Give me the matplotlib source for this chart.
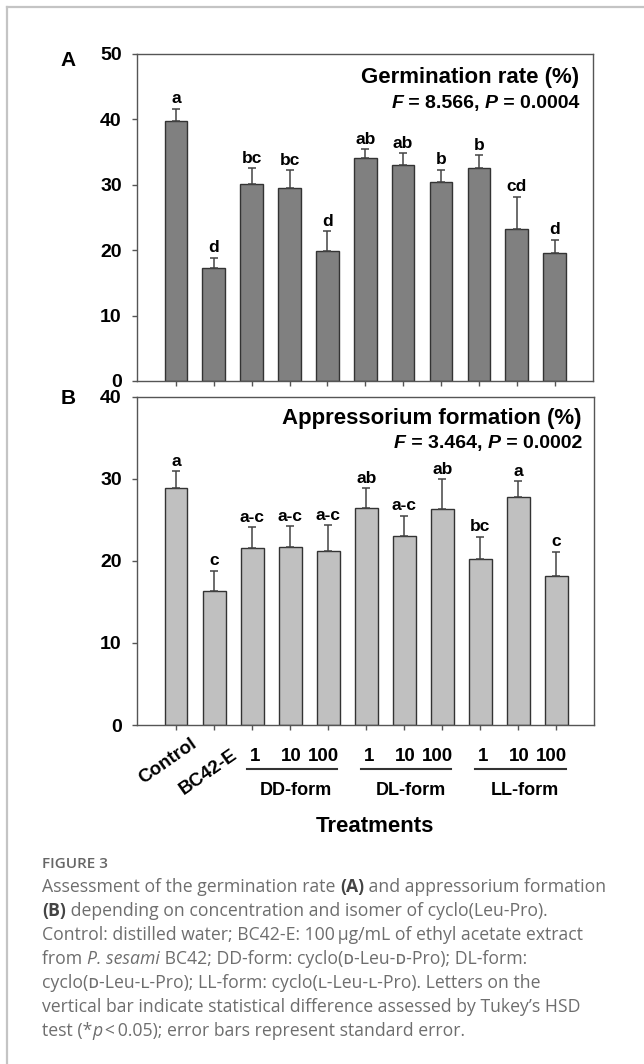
import matplotlib
matplotlib.use('Agg')
import matplotlib.pyplot as plt
from matplotlib.lines import Line2D
from matplotlib.transforms import blended_transform_factory
import numpy as np

# datos
tratamientos = ['Control', 'BC42-E']
dosis = ['1', '10', '100']
grupos = ['DD-form', 'DL-form', 'LL-form']

germ = [39.7, 17.3, 30.1, 29.5, 19.9, 34.1, 33.1, 30.4, 32.5, 23.2, 19.6]
germ_se = [1.9, 1.5, 2.4, 2.7, 3.0, 1.3, 1.7, 1.9, 2.0, 5.0, 2.0]
germ_letras = ['a', 'd', 'bc', 'bc', 'd', 'ab', 'ab', 'b', 'b', 'cd', 'd']

apres = [28.9, 16.3, 21.6, 21.7, 21.2, 26.4, 23.0, 26.3, 20.2, 27.8, 18.1]
apres_se = [2.0, 2.5, 2.5, 2.5, 3.1, 2.4, 2.5, 3.6, 2.7, 1.9, 3.0]
apres_letras = ['a', 'c', 'a-c', 'a-c', 'a-c', 'ab', 'a-c', 'ab', 'bc', 'a', 'c']

W, H = 644, 1064
plt.rcParams['font.family'] = ['Liberation Sans', 'DejaVu Sans']

fig = plt.figure(figsize=(W / 100, H / 100), dpi=100)
renderer = fig.canvas.get_renderer()


def fx(x):
    return x / W


def fy(y):
    return 1 - y / H


# marco gris del recuadro
fig.add_artist(Line2D([fx(7), 1.0], [fy(7), fy(7)], color='#c4c4c4', lw=1.6))
fig.add_artist(Line2D([fx(7), fx(7)], [fy(7), 0.0], color='#c4c4c4', lw=1.6))


def panel(ax, vals, se, letras, color, ymax):
    x = np.arange(len(vals))
    ax.bar(x, vals, width=0.6, color=color, edgecolor='#333333', linewidth=1, zorder=2)
    ax.errorbar(x, vals, yerr=[np.zeros(len(vals)), se], fmt='none', ecolor='#444444',
                elinewidth=1.1, capsize=3.2, capthick=1.1, zorder=3)
    for xi, v, s, l in zip(x, vals, se, letras):
        ax.annotate(l, (xi, v + s), xytext=(0, 4), textcoords='offset points',
                    ha='center', va='baseline', fontsize=12.5, fontweight='bold')
    ax.set_xlim(-1.04, 11.0)
    ax.set_ylim(0, ymax)
    ax.set_yticks(range(0, ymax + 1, 10))
    ax.set_xticks(x)
    ax.set_xticklabels([])
    for s in ax.spines.values():
        s.set_color('#555555')
        s.set_linewidth(1)
    ax.tick_params(direction='out', length=3.6, width=1, color='#555555',
                   labelsize=14, pad=7)
    for lab in ax.get_yticklabels():
        lab.set_fontweight('bold')


axA = fig.add_axes([fx(136.5), fy(381), (592.5 - 136.5) / W, (381 - 54) / H])
axB = fig.add_axes([fx(136.5), fy(725), (594.5 - 136.5) / W, (725 - 396.5) / H])
panel(axA, germ, germ_se, germ_letras, '#808080', 50)
panel(axB, apres, apres_se, apres_letras, '#c0c0c0', 40)

fig.text(fx(68.5), fy(60), 'A', ha='center', va='center', fontsize=15, fontweight='bold')
fig.text(fx(68.5), fy(399), 'B', ha='center', va='center', fontsize=15, fontweight='bold')


def ancho(texto, **kw):
    t = fig.text(0, 0, '|' + texto + '|', **kw)
    w1 = t.get_window_extent(renderer).width
    t.set_text('||')
    w2 = t.get_window_extent(renderer).width
    t.remove()
    return w1 - w2


def linea(x, y, trozos, derecha=False):
    # trozos: lista de (texto, estilo)
    if derecha:
        x = x - sum(ancho(t, **kw) for t, kw in trozos)
    for t, kw in trozos:
        fig.text(fx(x), fy(y), t, ha='left', va='baseline', **kw)
        x += ancho(t, **kw)


neg = dict(fontsize=14, fontweight='bold')
negit = dict(fontsize=14, fontweight='bold', fontstyle='italic')
fig.text(fx(579.5), fy(83.3), 'Germination rate (%)', ha='right', va='baseline',
         fontsize=16, fontweight='bold')
linea(579.5, 108.3, [('F', negit), (' = 8.566, ', neg), ('P', negit), (' = 0.0004', neg)], derecha=True)
fig.text(fx(582), fy(424.3), 'Appressorium formation (%)', ha='right', va='baseline',
         fontsize=16, fontweight='bold')
linea(582, 448.3, [('F', negit), (' = 3.464, ', neg), ('P', negit), (' = 0.0002', neg)], derecha=True)

# etiquetas del eje x
k = 0.72  # px -> pt
bt = blended_transform_factory(axB.transData, axB.transAxes)
axB.annotate(tratamientos[0], xy=(0, 0), xycoords=bt, xytext=(14 * k, -10 * k),
             textcoords='offset points', ha='right', va='top', rotation=35,
             rotation_mode='anchor', fontsize=13.5, fontweight='bold', annotation_clip=False)
axB.annotate(tratamientos[1], xy=(1, 0), xycoords=bt, xytext=(17 * k, -21 * k),
             textcoords='offset points', ha='right', va='top', rotation=35,
             rotation_mode='anchor', fontsize=13.5, fontweight='bold', annotation_clip=False)

desp = [3, 1, -5]
alto = 725 - 396.5
for g, nombre in enumerate(grupos):
    base = 2 + 3 * g
    for j, d in enumerate(dosis):
        axB.annotate(d, xy=(base + j, 0), xycoords=bt, xytext=(desp[j] * k, -35.7 * k),
                     textcoords='offset points', ha='center', va='baseline',
                     fontsize=13.5, fontweight='bold', annotation_clip=False)
    axB.plot([base - 0.13, base + 2.24], [-44 / alto, -44 / alto], transform=bt,
             color='#333333', lw=1.5, clip_on=False)
    axB.annotate(nombre, xy=(base + 1.16, 0), xycoords=bt, xytext=(0, -70 * k),
                 textcoords='offset points', ha='center', va='baseline',
                 fontsize=13, fontweight='bold', annotation_clip=False)

fig.text(fx(375), fy(831.7), 'Treatments', ha='center', va='baseline',
         fontsize=16, fontweight='bold')

# pie de figura
cap = ['Open Sans', 'DejaVu Sans']
gris = '#6e6e6e'
tam = 12.7
r = dict(fontsize=tam, family=cap, color=gris)
b = dict(fontsize=tam, family=cap, color='#444444', fontweight='bold')
it = dict(fontsize=tam, family=cap, color=gris, fontstyle='italic')

fig.text(fx(42), fy(868), 'FIGURE 3', ha='left', va='baseline', fontsize=11,
         family=cap, color='#666666', fontweight='semibold')
renglones = [
    [('Assessment of the germination rate ', r), ('(A)', b), (' and appressorium formation', r)],
    [('(B)', b), (' depending on concentration and isomer of cyclo(Leu-Pro).', r)],
    [('Control: distilled water; BC42-E: 100\u2009\u00b5g/mL of ethyl acetate extract', r)],
    [('from ', r), ('P. sesami', it), (' BC42; DD-form: cyclo(\u1d05-Leu-\u1d05-Pro); DL-form:', r)],
    [('cyclo(\u1d05-Leu-\u029f-Pro); LL-form: cyclo(\u029f-Leu-\u029f-Pro). Letters on the', r)],
    [('vertical bar indicate statistical difference assessed by Tukey\u2019s HSD', r)],
    [('test (*', r), ('p', it), ('\u2009<\u20090.05); error bars represent standard error.', r)],
]
for i, rr in enumerate(renglones):
    linea(42, 892 + 24 * i, rr)

fig.savefig('out.png', dpi=100)
